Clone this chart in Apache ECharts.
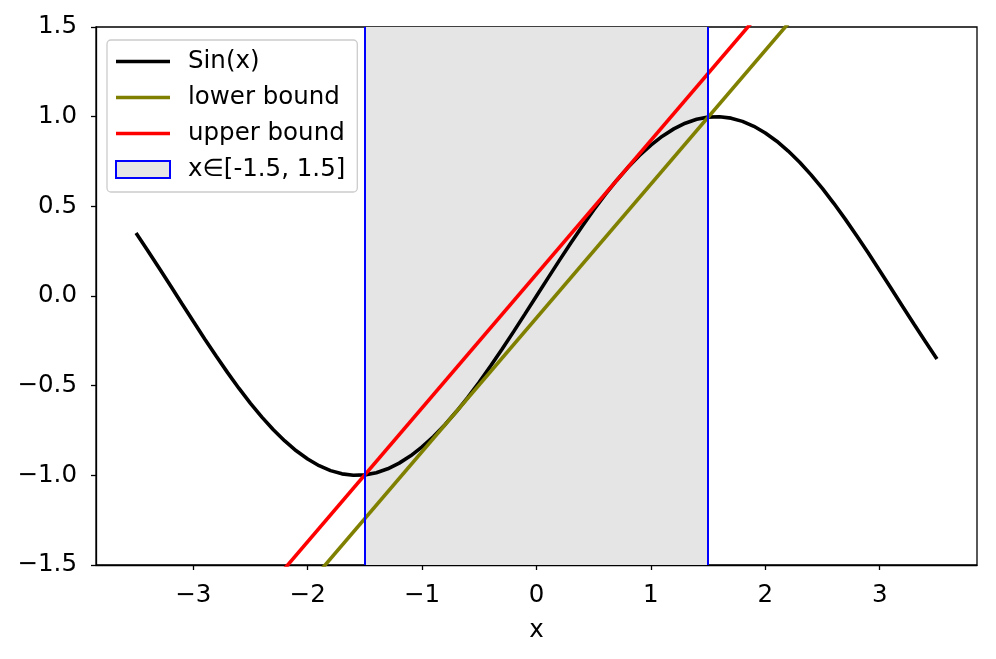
<!DOCTYPE html>
<html>
<head>
<meta charset="utf-8">
<script src="https://cdn.jsdelivr.net/npm/echarts@6/dist/echarts.min.js"></script>
<style>html,body{margin:0;padding:0;background:#fff}#c{width:996px;height:659px}</style>
</head>
<body>
<div id="c"></div>
<script>
// sampled x values and sin(x) values
const sinX = [-3.5,-3.4,-3.3,-3.2,-3.1,-3.0,-2.9,-2.8,-2.7,-2.6,-2.5,-2.4,-2.3,-2.2,-2.1,-2.0,-1.9,-1.8,-1.7,-1.6,-1.5,-1.4,-1.3,-1.2,-1.1,-1.0,-0.9,-0.8,-0.7,-0.6,-0.5,-0.4,-0.3,-0.2,-0.1,
  0,0.1,0.2,0.3,0.4,0.5,0.6,0.7,0.8,0.9,1.0,1.1,1.2,1.3,1.4,1.5,1.6,1.7,1.8,1.9,2.0,2.1,2.2,2.3,2.4,2.5,2.6,2.7,2.8,2.9,3.0,3.1,3.2,3.3,3.4,3.5];
const sinY = [0.3508,0.2555,0.1577,0.0584,-0.0416,-0.1411,-0.2392,-0.3350,-0.4274,-0.5155,-0.5985,-0.6755,-0.7457,-0.8085,-0.8632,-0.9093,-0.9463,-0.9738,-0.9917,-0.9996,-0.9975,-0.9854,-0.9636,-0.9320,-0.8912,-0.8415,-0.7833,-0.7174,-0.6442,-0.5646,-0.4794,-0.3894,-0.2955,-0.1987,-0.0998,
  0,0.0998,0.1987,0.2955,0.3894,0.4794,0.5646,0.6442,0.7174,0.7833,0.8415,0.8912,0.9320,0.9636,0.9854,0.9975,0.9996,0.9917,0.9738,0.9463,0.9093,0.8632,0.8085,0.7457,0.6755,0.5985,0.5155,0.4274,0.3350,0.2392,0.1411,0.0416,-0.0584,-0.1577,-0.2555,-0.3508];
const boundX = [-3.5, 3.5];
const lowerY = [-2.733, 2.489];
const upperY = [-2.489, 2.733];
const spanRange = [-1.5, 1.5];
const xTicks = [-3,-2,-1,0,1,2,3];
const yTicks = [-1.5,-1.0,-0.5,0.0,0.5,1.0,1.5];
const names = ['Sin(x)', 'lower bound', 'upper bound', 'x\u2208[-1.5, 1.5]'];

const zip = (xs, ys) => xs.map((x, i) => [x, ys[i]]);
const minus = s => String(s).replace('-', '\u2212');
const FONT = 'DejaVu Sans';
const FS = 24.5;
const lineIcon = 'path://M0,0L54,0L54,3.6L0,3.6Z';

const chart = echarts.init(document.getElementById('c'), null, {renderer: 'canvas'});
chart.setOption({
  animation: false,
  backgroundColor: '#fff',
  grid: {left: 96, right: 19, top: 27, bottom: 94, show: true, borderColor: '#000', borderWidth: 1.3, backgroundColor: 'transparent'},
  xAxis: {
    type: 'value', min: -3.85, max: 3.85,
    name: 'x', nameLocation: 'middle', nameGap: 53,
    nameTextStyle: {fontFamily: FONT, fontSize: FS, color: '#000'},
    splitLine: {show: false},
    axisLine: {show: true, onZero: false, lineStyle: {color: '#000', width: 1.3}},
    axisTick: {show: true, length: 5, lineStyle: {color: '#000', width: 1.3}, customValues: xTicks},
    axisLabel: {customValues: xTicks, formatter: v => minus(Math.round(v)), fontFamily: FONT, fontSize: FS, color: '#000', margin: 18}
  },
  yAxis: {
    type: 'value', min: -1.5, max: 1.5,
    splitLine: {show: false},
    axisLine: {show: true, onZero: false, lineStyle: {color: '#000', width: 1.3}},
    axisTick: {show: true, length: 5, lineStyle: {color: '#000', width: 1.3}, customValues: yTicks},
    axisLabel: {customValues: yTicks, formatter: v => minus(Number(v).toFixed(1)), fontFamily: FONT, fontSize: FS, color: '#000', margin: 19}
  },
  legend: {
    orient: 'vertical', left: 107, top: 40,
    itemWidth: 54, itemHeight: 17, itemGap: 11,
    padding: [9, 12, 10, 8],
    symbolKeepAspect: true,
    borderColor: '#cccccc', borderWidth: 1.3, borderRadius: 4,
    backgroundColor: 'rgba(255,255,255,0.8)',
    textStyle: {fontFamily: FONT, fontSize: FS, color: '#000', padding: [0, 0, 0, 13]},
    data: [
      {name: names[0], icon: lineIcon, itemStyle: {color: '#000000', borderWidth: 0}},
      {name: names[1], icon: lineIcon, itemStyle: {color: '#808000', borderWidth: 0}},
      {name: names[2], icon: lineIcon, itemStyle: {color: '#ff0000', borderWidth: 0}},
      {name: names[3], icon: 'rect', itemStyle: {color: '#e5e5e5', borderColor: '#0000ff', borderWidth: 2}}
    ]
  },
  series: [
    {
      name: names[3], type: 'line', data: [], symbol: 'none',
      itemStyle: {color: '#e5e5e5', borderColor: '#0000ff', borderWidth: 2},
      lineStyle: {color: '#0000ff'},
      markArea: {silent: true, itemStyle: {color: '#e5e5e5', borderWidth: 0}, label: {show: false},
        data: [[{xAxis: spanRange[0]}, {xAxis: spanRange[1]}]]},
      markLine: {silent: true, symbol: 'none', label: {show: false},
        lineStyle: {color: '#0000ff', width: 2, type: 'solid'},
        data: [{xAxis: spanRange[0]}, {xAxis: spanRange[1]}]}
    },
    {name: names[0], type: 'line', data: zip(sinX, sinY), symbol: 'none', clip: true,
      lineStyle: {color: '#000', width: 3.6}, itemStyle: {color: '#000'}},
    {name: names[1], type: 'line', data: zip(boundX, lowerY), symbol: 'none', clip: true,
      lineStyle: {color: '#808000', width: 3.6}, itemStyle: {color: '#808000'}},
    {name: names[2], type: 'line', data: zip(boundX, upperY), symbol: 'none', clip: true,
      lineStyle: {color: '#ff0000', width: 3.6}, itemStyle: {color: '#ff0000'}}
  ]
});
</script>
</body>
</html>
